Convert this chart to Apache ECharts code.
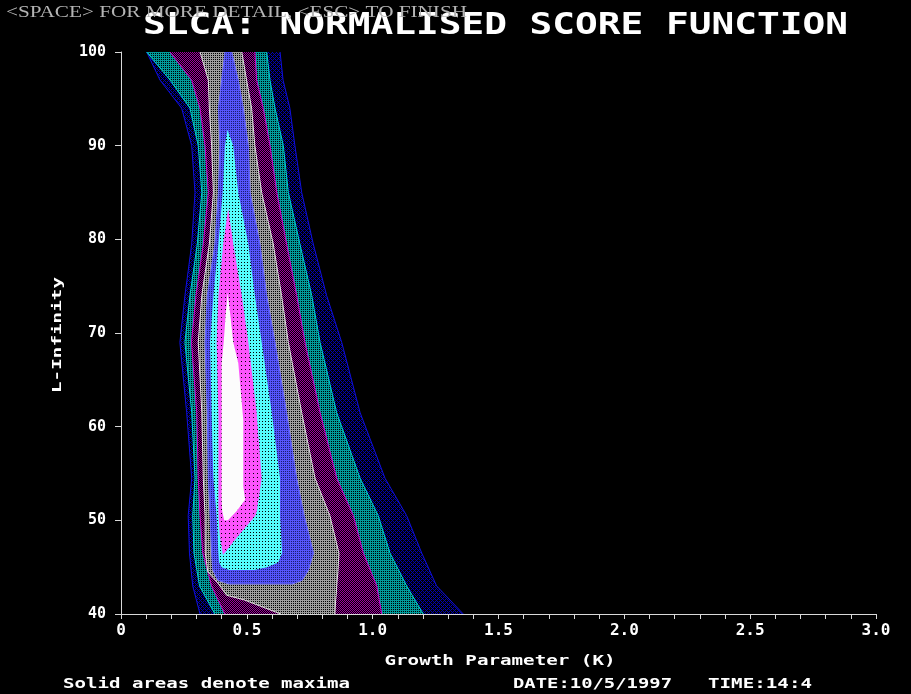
<!DOCTYPE html>
<html>
<head>
<meta charset="utf-8">
<title>SLCA: normalised score function</title>
<script src="https://cdn.jsdelivr.net/npm/echarts@6/dist/echarts.min.js"></script>
<style>
  html, body { margin: 0; background: #000; }
  #main { width: 911px; height: 694px; }
</style>
</head>
<body>
<div id="main"></div>
<script>
// contour lines: L-Infinity level -> K at left / right edge of each contour
const levels = [100, 97, 94, 90, 85, 79.5, 74, 69, 61.5, 54.5, 50.5, 46.5, 43, 40]
const outerLeft = [0.102, 0.155, 0.241, 0.281, 0.294, 0.281, 0.254, 0.234, 0.261, 0.281, 0.267, 0.272, 0.285, 0.314]
const outerRight = [0.632, 0.644, 0.671, 0.691, 0.718, 0.764, 0.817, 0.877, 0.950, 1.049, 1.135, 1.195, 1.254, 1.360]
const tealLeft = [0.102, 0.195, 0.274, 0.307, 0.321, 0.303, 0.274, 0.254, 0.281, 0.294, 0.285, 0.290, 0.312, 0.373]
const tealRight = [0.579, 0.592, 0.612, 0.645, 0.665, 0.711, 0.758, 0.791, 0.857, 0.950, 1.022, 1.069, 1.135, 1.201]
const purpleLeft = [0.195, 0.281, 0.314, 0.334, 0.347, 0.327, 0.298, 0.280, 0.301, 0.307, 0.314, 0.325, 0.360, 0.413]
const purpleRight = [0.532, 0.539, 0.565, 0.592, 0.619, 0.658, 0.698, 0.731, 0.791, 0.857, 0.923, 0.963, 1.016, 1.036]

const greyLevels = [100, 97, 94, 90, 85, 79.5, 74, 69, 61.5, 54.5, 50.5, 46.5, 44.5, 43.3, 42, 41.5, 40]
const greyLeft = [0.314, 0.347, 0.351, 0.360, 0.367, 0.351, 0.321, 0.307, 0.321, 0.327, 0.334, 0.335, 0.345, 0.385, 0.420, 0.490, 0.635]
const greyRight = [0.480, 0.499, 0.519, 0.532, 0.559, 0.605, 0.638, 0.665, 0.718, 0.771, 0.830, 0.866, 0.862, 0.858, 0.855, 0.853, 0.850]

const blueLevels = [100, 97, 94, 90, 85, 79.5, 74, 69, 61.5, 54.5, 50.5, 46.5, 44.7, 43.6, 43.2]
const blueLeft = [0.413, 0.400, 0.387, 0.393, 0.387, 0.373, 0.343, 0.334, 0.343, 0.347, 0.354, 0.360, 0.365, 0.385, 0.430]
const blueRight = [0.440, 0.466, 0.486, 0.506, 0.513, 0.552, 0.579, 0.612, 0.658, 0.698, 0.728, 0.765, 0.745, 0.720, 0.680]

const cyanLevels = [91.7, 90, 85, 79.5, 74, 69, 61.5, 54.5, 50.5, 46.5, 45.5, 45.0, 44.7]
const cyanLeft = [0.423, 0.413, 0.404, 0.387, 0.367, 0.354, 0.360, 0.367, 0.380, 0.387, 0.390, 0.400, 0.430]
const cyanRight = [0.423, 0.446, 0.466, 0.506, 0.532, 0.559, 0.599, 0.632, 0.632, 0.640, 0.625, 0.580, 0.530]

const magentaLevels = [83.3, 79.5, 74, 69, 61.5, 54.5, 51, 50.4, 48.5, 46.3]
const magentaLeft = [0.426, 0.406, 0.387, 0.380, 0.387, 0.387, 0.387, 0.388, 0.392, 0.405]
const magentaRight = [0.426, 0.446, 0.480, 0.506, 0.539, 0.559, 0.540, 0.532, 0.470, 0.405]

const whiteLevels = [74.3, 72, 69, 66.8, 60.7, 53.6, 52.2, 51, 50.0]
const whiteLeft = [0.424, 0.416, 0.408, 0.400, 0.400, 0.400, 0.400, 0.402, 0.410]
const whiteRight = [0.424, 0.434, 0.446, 0.466, 0.486, 0.486, 0.493, 0.460, 0.425]

const kTickLabels = ['0', '0.5', '1.0', '1.5', '2.0', '2.5', '3.0']

// small pixel tiles, like the old screen fill patterns
function tile(size, bg, fg, cells) {
  const c = document.createElement('canvas')
  c.width = c.height = size
  const g = c.getContext('2d')
  g.fillStyle = bg
  g.fillRect(0, 0, size, size)
  g.fillStyle = fg
  cells.forEach(p => g.fillRect(p[0], p[1], 1, 1))
  return { image: c, repeat: 'repeat' }
}
const fills = {
  outer: tile(4, '#000', '#0000b4', [[0, 0], [1, 1], [2, 2], [3, 3], [1, 3], [3, 1]]),
  teal: tile(2, '#009a9a', '#000', [[1, 1]]),
  purple: tile(2, '#a000a0', '#000', [[0, 1], [1, 0]]),
  grey: tile(2, '#9c9c9c', '#000', [[1, 1]]),
  blue: tile(4, '#5454fc', '#1c1c70', [[1, 1], [3, 3], [1, 3], [3, 1]]),
  cyan: tile(3, '#54fcfc', '#000', [[1, 1]]),
  magenta: tile(4, '#fc54fc', '#000', [[1, 1]]),
  white: '#fcfcfc',
}

function contour(ys, left, right, fill, stroke) {
  return {
    type: 'custom',
    silent: true,
    data: [[0, 40]],
    renderItem: function (params, api) {
      const l = ys.map((y, i) => api.coord([left[i], y]))
      const r = ys.map((y, i) => api.coord([right[i], y]))
      const ring = l.concat(r.slice().reverse())
      const children = [{ type: 'polygon', shape: { points: ring }, style: { fill: fill } }]
      if (stroke) {
        const lineStyle = { fill: null, stroke: stroke, lineWidth: 1 }
        if (ys[ys.length - 1] <= 40) {
          children.push({ type: 'polyline', shape: { points: l }, style: lineStyle })
          children.push({ type: 'polyline', shape: { points: r }, style: lineStyle })
        } else {
          children.push({ type: 'polyline', shape: { points: ring }, style: lineStyle })
        }
      }
      return { type: 'group', children: children }
    },
  }
}

// text stretched to the width it has on the old screen font
const measure = document.createElement('canvas').getContext('2d')
function screenText(text, x, y, width, font, color, align, rotation) {
  measure.font = font
  const w = measure.measureText(text).width
  return {
    type: 'text',
    x: x,
    y: y,
    scaleX: width / w,
    rotation: rotation || 0,
    z: 20,
    style: {
      text: text,
      font: font,
      fill: color,
      align: align,
      textAlign: align,
      verticalAlign: 'middle',
      textVerticalAlign: 'middle',
    },
  }
}

const axisColor = '#d8d8d8'
const mono = '"DejaVu Sans Mono", monospace'

const option = {
  backgroundColor: '#000',
  animation: false,
  grid: { left: 121, right: 35, top: 52, bottom: 80 },
  xAxis: {
    type: 'value',
    min: 0,
    max: 3,
    interval: 0.5,
    z: 10,
    axisLine: { show: true, lineStyle: { color: axisColor, width: 1 } },
    axisTick: { show: true, length: 5, lineStyle: { color: axisColor } },
    minorTick: { show: true, splitNumber: 5, length: 5, lineStyle: { color: axisColor } },
    splitLine: { show: false },
    axisLabel: {
      color: '#fff',
      fontFamily: mono,
      fontWeight: 'bold',
      fontSize: 16,
      margin: 9,
      formatter: v => kTickLabels[Math.round(v / 0.5)],
    },
  },
  yAxis: {
    type: 'value',
    min: 40,
    max: 100,
    interval: 10,
    z: 10,
    axisLine: { show: true, lineStyle: { color: axisColor, width: 1 } },
    axisTick: { show: true, length: 6, lineStyle: { color: axisColor } },
    splitLine: { show: false },
    axisLabel: {
      color: '#fff',
      fontFamily: mono,
      fontWeight: 'bold',
      fontSize: 15,
      margin: 15,
    },
  },
  graphic: [
    screenText('SLCA: NORMALISED SCORE FUNCTION', 143, 26, 705, 'bold 30px ' + mono, '#fff', 'left'),
    screenText('<SPACE> FOR MORE DETAIL, <ESC> TO FINISH', 6, 13, 461, '16px "Liberation Serif", serif', '#b4b4b4', 'left'),
    screenText('L-Infinity', 58, 335, 116, 'bold 13px ' + mono, '#fff', 'center', Math.PI / 2),
    screenText('Growth Parameter (K)', 500, 661, 231, 'bold 14px ' + mono, '#fff', 'center'),
    screenText('Solid areas denote maxima', 63, 684, 287, 'bold 14px ' + mono, '#fff', 'left'),
    screenText('DATE:10/5/1997', 513, 684, 159, 'bold 14px ' + mono, '#fff', 'left'),
    screenText('TIME:14:4', 708, 684, 104, 'bold 14px ' + mono, '#fff', 'left'),
  ],
  series: [
    contour(levels, outerLeft, outerRight, fills.outer, '#1010e0'),
    contour(levels, tealLeft, tealRight, fills.teal, '#00d0d0'),
    contour(levels, purpleLeft, purpleRight, fills.purple, '#d000d0'),
    contour(greyLevels, greyLeft, greyRight, fills.grey, '#e0e0e0'),
    contour(blueLevels, blueLeft, blueRight, fills.blue, '#6a6aff'),
    contour(cyanLevels, cyanLeft, cyanRight, fills.cyan, null),
    contour(magentaLevels, magentaLeft, magentaRight, fills.magenta, null),
    contour(whiteLevels, whiteLeft, whiteRight, fills.white, null),
  ],
}

const chart = echarts.init(document.getElementById('main'))
chart.setOption(option)
window.addEventListener('resize', () => chart.resize())
</script>
</body>
</html>
